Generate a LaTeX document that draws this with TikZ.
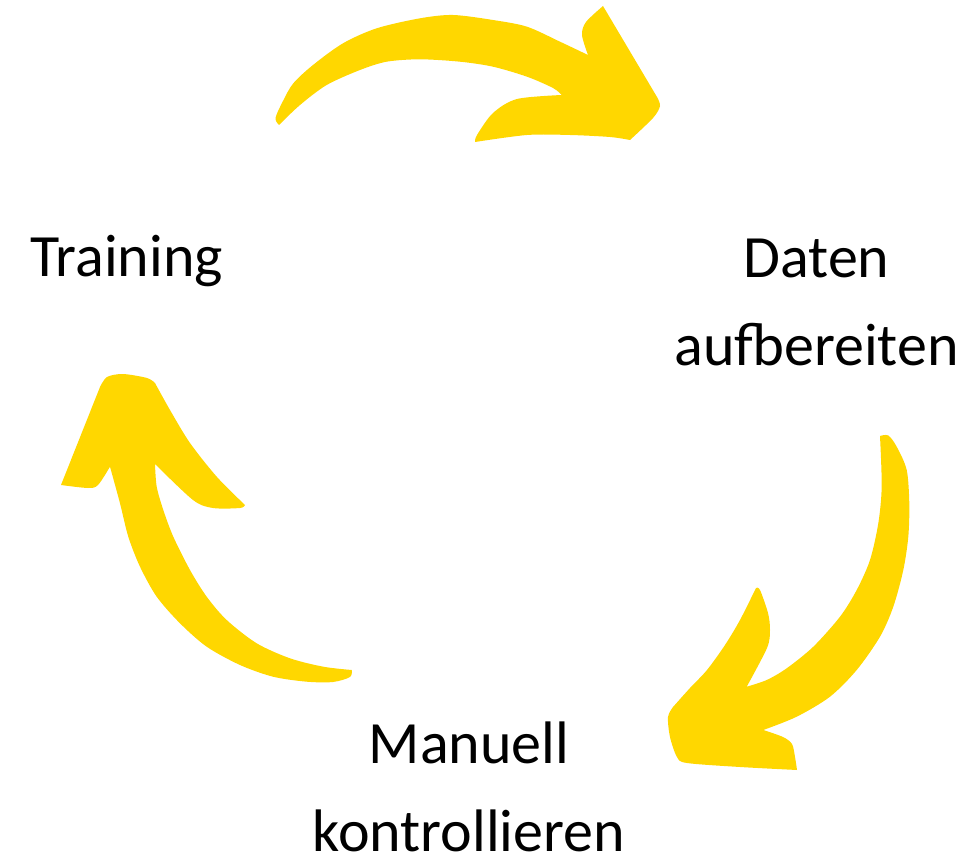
\documentclass[tikz,border=0pt]{standalone}
\usepackage{fontspec}
\setmainfont{Carlito}
\definecolor{arrowyellow}{RGB}{255,215,0}
\begin{document}
\begin{tikzpicture}[x=1pt,y=-1pt,
  lbl/.style={align=center,anchor=base,inner sep=0pt,font=\fontsize{60}{88}\selectfont},
  bigarrow/.style={fill=arrowyellow,draw=none}]
\useasboundingbox (0,0) rectangle (970,861);
% top arrow: Training -> Daten aufbereiten
\fill[bigarrow] (279,125) -- plot[smooth] coordinates {(279,125) (275.5,118) (283,101) (293.3,83.3) (313,65) (343,43.3) (376.7,28.3) (420,18.3) (453,15) (493,20) (527,26.7) (560,41.7) (588,55)}
  -- plot[smooth] coordinates {(588,55) (582,35) (586,22) (603,6)}
  -- plot[smooth] coordinates {(657,97) (660,106) (653,118) (630,140)}
  -- plot[smooth] coordinates {(630,140) (610,137) (570,135) (527,135) (475,142)}
  -- plot[smooth] coordinates {(475,142) (477,135) (493,113) (517,99) (561.7,95)}
  -- plot[smooth] coordinates {(561.7,95) (553,88) (527,76.7) (493,66.7) (460,61.7) (420,59.3) (386.7,61.7) (360,70) (326.7,85) (300,105) (279,125)} -- cycle;
% right arrow: Daten aufbereiten -> Manuell kontrollieren
\fill[bigarrow] (880,436) -- plot[smooth] coordinates {(880,436) (888.3,435.5) (896.7,446.7) (906.7,470) (909.3,503.3) (908.3,536.7) (903.3,570) (893.3,606.7) (880,636.7) (856.7,670) (830,696.7) (796.7,716.7) (763.3,730)}
  -- plot[smooth] coordinates {(763.3,730) (783,737) (792,744) (795,757) (797,770)}
  -- plot[smooth] coordinates {(797,770) (740,767) (687,763) (677,757) (670,737) (668,717) (673,707)}
  -- plot[smooth] coordinates {(673,707) (690,688) (707,670) (725,645) (740,620) (756,588)}
  -- plot[smooth] coordinates {(756,588) (760,590) (768,613) (770,630) (767,648) (746.7,686.7)}
  -- plot[smooth] coordinates {(746.7,686.7) (766.7,680) (786.7,668.3) (813.3,646.7) (840,616.7) (856.7,590) (870,560) (878.3,523.3) (881.7,486.7) (880,436)} -- cycle;
% left arrow: Manuell kontrollieren -> Training
\fill[bigarrow] (351.7,670) -- plot[smooth] coordinates {(351.7,670) (350,677) (333,682) (306.7,681.7) (273,676.7) (240,665) (206.7,646.7) (180,623.3) (156.7,596.7) (140,566.7) (128.3,536.7) (120,503.3) (110,466.7)}
  -- plot[smooth] coordinates {(110,466.7) (98,485) (88,488) (61,485)}
  -- plot[smooth] coordinates {(100,387) (107,377) (123,374) (147,378) (155,383)}
  -- plot[smooth] coordinates {(155,383) (170,410) (190,443) (217,477) (245,505)}
  -- plot[smooth] coordinates {(245,505) (240,508) (213,508) (193,500) (155,464)}
  -- plot[smooth] coordinates {(155,464) (156.7,486.7) (163.3,510) (173.3,536.7) (190,570) (206.7,596.7) (226.7,620) (256.7,643.3) (290,658.3) (323.3,666.7) (351.7,670)} -- cycle;
% labels (base anchor = baseline of the last line)
\node[lbl] (training) at (126.5,276.7) {Training};
\node[lbl] (daten) at (816.5,365) {Daten\\aufbereiten};
\node[lbl] (manuell) at (469,851.7) {Manuell\\kontrollieren};
\end{tikzpicture}
\end{document}
